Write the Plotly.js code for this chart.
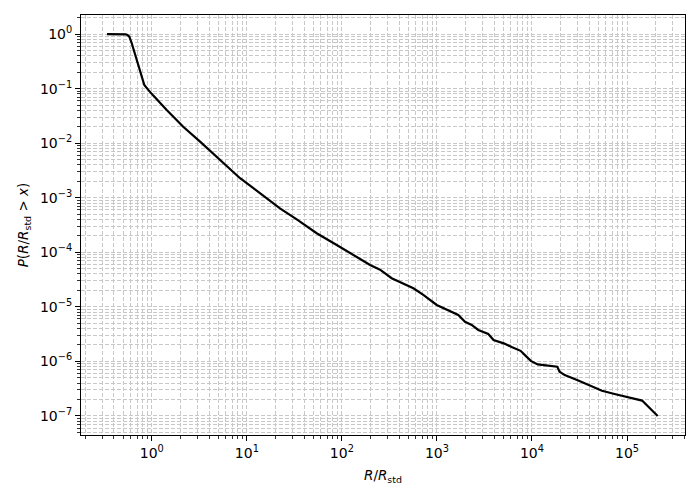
<!DOCTYPE html>
<html>
<head>
<meta charset="utf-8">
<script src="https://cdn.plot.ly/plotly-3.0.1.min.js"></script>
<style>html,body{margin:0;padding:0;background:#fff;}#chart{width:700px;height:500px;}</style>
</head>
<body>
<div id="chart"></div>
<script>
// R / R_std values (x) and survival probability P(R/R_std > x) (y)
const ratio = [0.338, 0.5, 0.53, 0.555, 0.58, 0.615, 0.655, 0.739, 0.834, 0.918, 0.981, 1.037, 1.435, 2.14, 3.22, 5.22, 8.48, 10.8, 13.7, 19.0, 22.3, 33.5, 54.3, 88.2, 149, 198, 252, 334, 565, 719, 995, 1262, 1678, 1974, 2321, 2723, 3470, 3940, 5045, 6195, 7590, 8590, 9720, 11480, 14700, 18450, 19500, 22100, 30700, 39300, 54500, 75700, 105000, 144000, 210000];
const prob = [1.0, 1.0, 0.99, 0.96, 0.896, 0.68, 0.476, 0.236, 0.1167, 0.095, 0.0822, 0.0745, 0.0406, 0.02, 0.01066, 0.00495, 0.00228, 0.00166, 0.0012, 7.9e-4, 6.4e-4, 4.0e-4, 2.23e-4, 1.36e-4, 7.76e-5, 5.85e-5, 4.8e-5, 3.34e-5, 2.19e-5, 1.65e-5, 1.08e-5, 9.0e-6, 7.1e-6, 5.3e-6, 4.65e-6, 3.77e-6, 3.17e-6, 2.47e-6, 2.14e-6, 1.81e-6, 1.56e-6, 1.26e-6, 1.02e-6, 8.8e-7, 8.5e-7, 8.0e-7, 6.45e-7, 5.6e-7, 4.45e-7, 3.74e-7, 2.9e-7, 2.5e-7, 2.17e-7, 1.91e-7, 1.0e-7];

const xTickVals = [1, 10, 100, 1000, 10000, 100000];
const xTickText = ['10<sup>0</sup>', '10<sup>1</sup>', '10<sup>2</sup>', '10<sup>3</sup>', '10<sup>4</sup>', '10<sup>5</sup>'];
const yTickVals = [1, 1e-1, 1e-2, 1e-3, 1e-4, 1e-5, 1e-6, 1e-7];
const yTickText = ['10<sup>0</sup>', '10<sup>\u22121</sup>', '10<sup>\u22122</sup>', '10<sup>\u22123</sup>', '10<sup>\u22124</sup>', '10<sup>\u22125</sup>', '10<sup>\u22126</sup>', '10<sup>\u22127</sup>'];

const gridCol = '#c8c8c8';
const font = {family: 'DejaVu Sans, sans-serif', size: 14, color: '#000'};
const titleFont = {family: 'DejaVu Sans, sans-serif', size: 13.5, color: '#000'};

const trace = {
  x: ratio, y: prob, type: 'scatter', mode: 'lines',
  line: {color: '#000', width: 2.2},
  hoverinfo: 'skip'
};

function axisBase() {
  return {
    type: 'log',
    showline: true, linecolor: '#000', linewidth: 1, mirror: true,
    ticks: 'outside', ticklen: 5, tickwidth: 1, tickcolor: '#000',
    showgrid: true, gridcolor: gridCol, gridwidth: 1, griddash: '4px,2px',
    zeroline: false,
    tickfont: font,
    minor: {ticks: 'outside', ticklen: 3, tickwidth: 0.8, tickcolor: '#000',
            showgrid: true, gridcolor: gridCol, gridwidth: 1, griddash: '4px,2px', dtick: 'D1'}
  };
}

const xaxis = Object.assign(axisBase(), {
  range: [-0.745, 5.61],
  tickmode: 'array', tickvals: xTickVals, ticktext: xTickText,
  title: {text: '<i>R</i>/<i>R</i><sub>std</sub>', font: titleFont, standoff: 10}
});
const yaxis = Object.assign(axisBase(), {
  range: [-7.35, 0.35],
  tickmode: 'array', tickvals: yTickVals, ticktext: yTickText,
  title: {text: '<i>P</i>(<i>R</i>/<i>R</i><sub>std</sub> &gt; <i>x</i>)', font: titleFont, standoff: 8}
});

const layout = {
  width: 700, height: 500,
  margin: {l: 81, r: 15, t: 15, b: 65},
  paper_bgcolor: '#fff', plot_bgcolor: '#fff',
  showlegend: false,
  font: font,
  xaxis: xaxis, yaxis: yaxis
};

Plotly.newPlot('chart', [trace], layout, {staticPlot: true, displayModeBar: false});
</script>
</body>
</html>
